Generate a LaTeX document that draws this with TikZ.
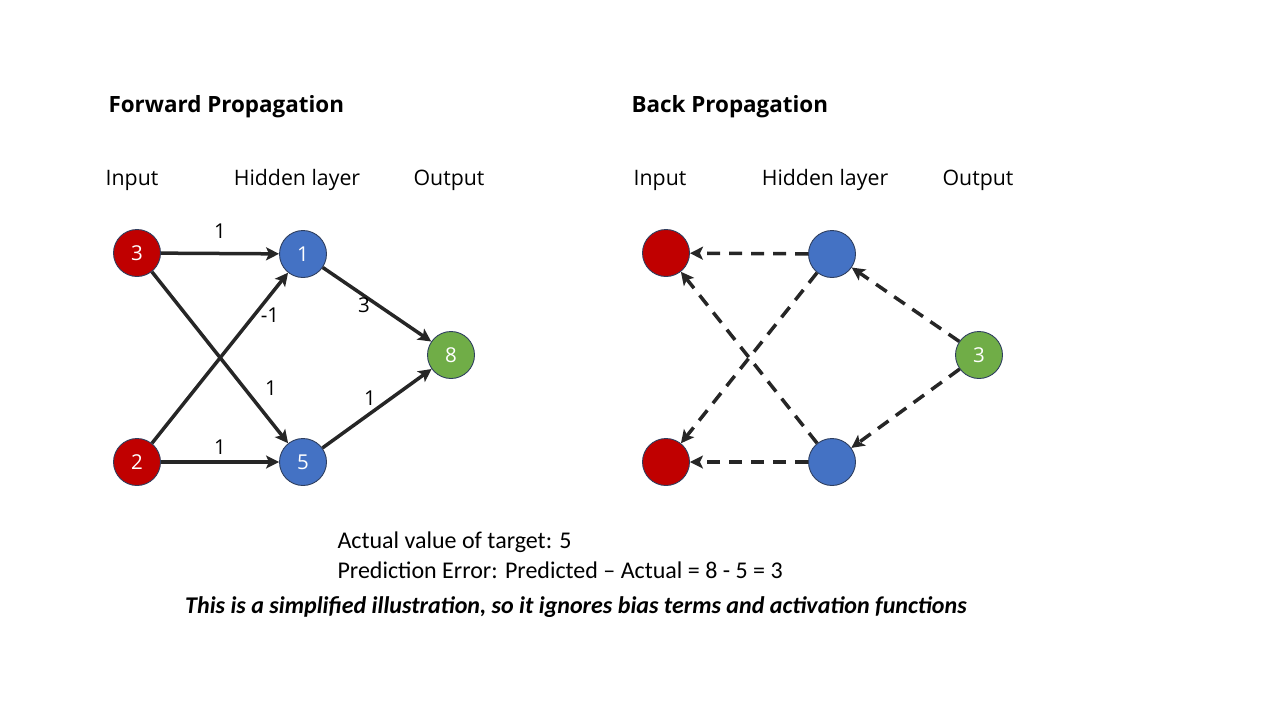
\documentclass[tikz,border=0pt]{standalone}
\usepackage{fontspec}
\setmainfont{Carlito}
\newfontfamily\uifont{Open Sans}
\usetikzlibrary{arrows.meta}
\definecolor{inred}{HTML}{C00000}
\definecolor{hidblue}{HTML}{4472C4}
\definecolor{outgreen}{HTML}{70AD47}
\definecolor{rim}{HTML}{2F3F5F}
\definecolor{edge}{HTML}{262626}
\tikzset{
  x=1pt, y=-1pt,
  neuron/.style={circle, draw=rim, line width=0.9pt, minimum size=47pt, inner sep=0pt,
    text=white, font=\uifont\fontsize{20.5}{24}\selectfont},
  innode/.style={neuron, fill=inred},
  hidnode/.style={neuron, fill=hidblue},
  outnode/.style={neuron, fill=outgreen},
  conn/.style={draw=edge, line width=3.5pt, -{Stealth[length=13pt,width=13pt,inset=3pt]}},
  bconn/.style={conn, dash pattern=on 13pt off 9pt},
  wlabel/.style={font=\uifont\fontsize{20.5}{24}\selectfont, text=black},
  head/.style={font=\uifont\fontsize{21.3}{25}\selectfont, text=black},
  title/.style={font=\uifont\bfseries\fontsize{22.4}{26}\selectfont, text=black, anchor=west},
  note/.style={font=\fontsize{24}{28}\selectfont, text=black, anchor=west},
}
\begin{document}
\begin{tikzpicture}
\useasboundingbox (0,0) rectangle (1280,720);
% titles
\node[title] (tf) at (105,107) {Forward Propagation};
\node[title] (tb) at (628,107) {Back Propagation};
% headers
\node[head] (h1) at (132,180) {Input};
\node[head] (h2) at (297,180) {Hidden layer};
\node[head] (h3) at (449,180) {Output};
\node[head] (h4) at (660,180) {Input};
\node[head] (h5) at (825,180) {Hidden layer};
\node[head] (h6) at (978,180) {Output};
% forward nodes
\node[innode] (fi1) at (137,253) {3};
\node[innode] (fi2) at (137,462) {2};
\node[hidnode] (fh1) at (303,254) {1};
\node[hidnode] (fh2) at (303,462) {5};
\node[outnode] (fo) at (451,355) {8};
% forward connectors
\draw[conn] (fi1) -- (fh1);
\draw[conn] (fi1) -- (fh2);
\draw[conn] (fi2) -- (fh1);
\draw[conn] (fi2) -- (fh2);
\draw[conn] (fh1) -- (fo);
\draw[conn] (fh2) -- (fo);
% weights
\node[wlabel] (w1) at (220,231) {1};
\node[wlabel] (w2) at (270,315) {-1};
\node[wlabel] (w3) at (271,388) {1};
\node[wlabel] (w4) at (220,447) {1};
\node[wlabel] (w5) at (364,305) {3};
\node[wlabel] (w6) at (370,398) {1};
% back nodes
\node[innode] (bi1) at (666,253) {};
\node[innode] (bi2) at (666,462) {};
\node[hidnode] (bh1) at (832,254) {};
\node[hidnode] (bh2) at (832,462) {};
\node[outnode] (bo) at (979,355) {3};
% back connectors
\draw[bconn] (bh1) -- (bi1);
\draw[bconn] (bh1) -- (bi2);
\draw[bconn] (bh2) -- (bi1);
\draw[bconn] (bh2) -- (bi2);
\draw[bconn] (bo) -- (bh1);
\draw[bconn] (bo) -- (bh2);
% notes
\node[note] (n1) at (334,542) {Actual value of target: 5};
\node[note] (n2) at (334,570) {Prediction Error: Predicted – Actual = 8 - 5 = 3};
\node[font=\bfseries\itshape\fontsize{24}{28}\selectfont] (n3) at (576,607) {This is a simplified illustration, so it ignores bias terms and activation functions};
\end{tikzpicture}
\end{document}
